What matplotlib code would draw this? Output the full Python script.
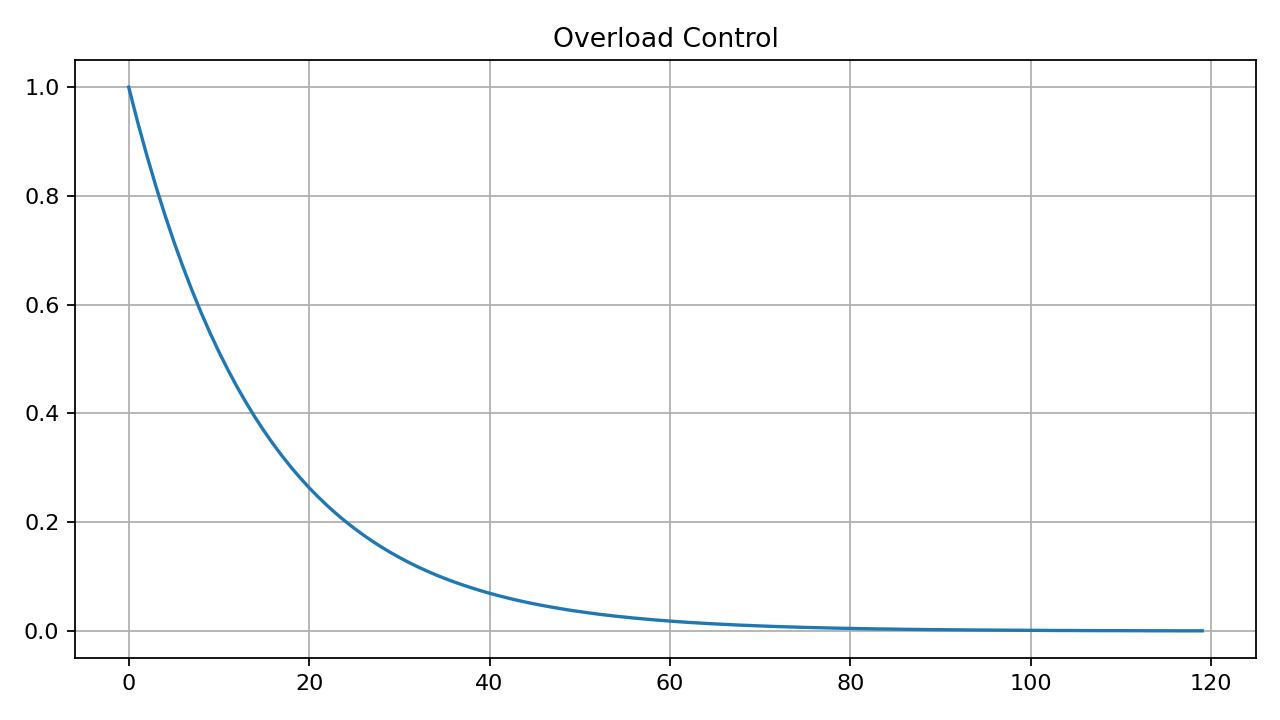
import matplotlib
matplotlib.use("Agg")
import matplotlib.pyplot as plt

title = "Overload Control"
x_values = list(range(120))
y_values = [
    1.0, 0.9355, 0.8752, 0.8187, 0.7659, 0.7165, 0.6703, 0.6271, 0.5866, 0.5488,
    0.5134, 0.4803, 0.4493, 0.4204, 0.3932, 0.3679, 0.3442, 0.3220, 0.3012, 0.2818,
    0.2636, 0.2466, 0.2307, 0.2158, 0.2019, 0.1889, 0.1767, 0.1653, 0.1546, 0.1447,
    0.1353, 0.1266, 0.1184, 0.1108, 0.1036, 0.0970, 0.0907, 0.0849, 0.0794, 0.0743,
    0.0695, 0.0650, 0.0608, 0.0569, 0.0532, 0.0498, 0.0466, 0.0436, 0.0408, 0.0381,
    0.0357, 0.0334, 0.0312, 0.0292, 0.0273, 0.0256, 0.0239, 0.0224, 0.0209, 0.0196,
    0.0183, 0.0171, 0.0160, 0.0150, 0.0140, 0.0131, 0.0123, 0.0115, 0.0107, 0.0101,
    0.0094, 0.0088, 0.0082, 0.0077, 0.0072, 0.0067, 0.0063, 0.0059, 0.0055, 0.0051,
    0.0048, 0.0045, 0.0042, 0.0039, 0.0037, 0.0035, 0.0032, 0.0030, 0.0028, 0.0026,
    0.0025, 0.0023, 0.0022, 0.0020, 0.0019, 0.0018, 0.0017, 0.0016, 0.0015, 0.0014,
    0.0013, 0.0012, 0.0011, 0.0010, 0.0010, 0.0009, 0.0008, 0.0008, 0.0007, 0.0007,
    0.0007, 0.0006, 0.0006, 0.0005, 0.0005, 0.0005, 0.0004, 0.0004, 0.0004, 0.0004,
]

fig, ax = plt.subplots(figsize=(8, 4.5), dpi=160)
ax.plot(x_values, y_values, color="#1f77b4")
ax.set_title(title)
ax.grid(True)
fig.subplots_adjust(left=0.0586, right=0.9812, top=0.9167, bottom=0.0861)
fig.savefig("out.png", dpi=160)
